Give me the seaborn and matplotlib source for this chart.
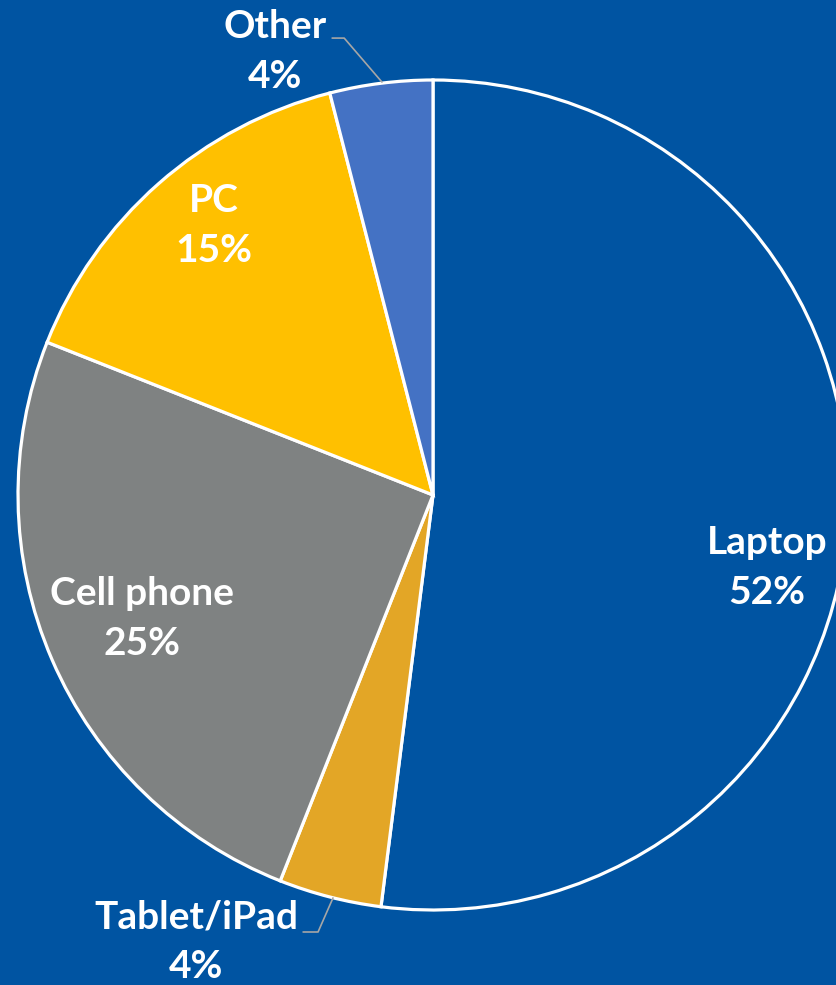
import numpy as np
import matplotlib

matplotlib.use("Agg")
import matplotlib.pyplot as plt
import seaborn as sns

# data
devices = ["Laptop", "Tablet/iPad", "Cell phone", "PC", "Other"]
shares = [52, 4, 25, 15, 4]
slice_colors = ["#0054A2", "#E3A626", "#7F8282", "#FFC000", "#4472C4"]

BG = "#0054A2"

sns.set_theme(style="white")
plt.rcParams["font.family"] = ["Lato", "DejaVu Sans"]

fig = plt.figure(figsize=(8.36, 9.85), dpi=100, facecolor=BG)
# pie centre at (433, 495) px, radius 415 px
ax = fig.add_axes([18 / 836, 75 / 985, 830 / 836, 830 / 985])
ax.set_facecolor(BG)

wedges, _ = ax.pie(
    shares,
    colors=slice_colors,
    startangle=90,
    counterclock=False,
    wedgeprops=dict(edgecolor="white", linewidth=2.3),
)
ax.set_xlim(-1, 1)
ax.set_ylim(-1, 1)
ax.set_aspect("auto")
ax.axis("off")

# label positions (pie radius units)
label_pos = {
    "Laptop": (0.805, -0.175),
    "Tablet/iPad": (-0.571, -1.077),
    "Cell phone": (-0.701, -0.298),
    "PC": (-0.528, 0.649),
    "Other": (-0.381, 1.069),
}
for name, val in zip(devices, shares):
    x, y = label_pos[name]
    ax.text(x, y, f"{name}\n{val}%", ha="center", va="center",
            multialignment="center", fontsize=28, fontweight="bold",
            color="white", linespacing=1.5, clip_on=False)

# leader lines for the small outer labels
ax.plot([-0.243, -0.214, -0.123], [1.101, 1.101, 0.995],
        color="#A6A6A6", lw=1.2, clip_on=False)
ax.plot([-0.313, -0.277, -0.241], [-1.053, -1.053, -0.971],
        color="#A6A6A6", lw=1.2, clip_on=False)

fig.savefig("out.png", dpi=100, facecolor=BG)
